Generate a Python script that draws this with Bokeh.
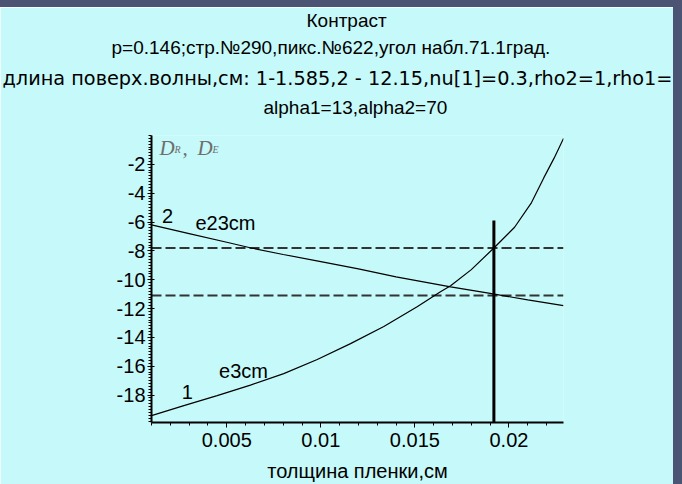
from bokeh.plotting import figure
from bokeh.layouts import column, row
from bokeh.models import Range1d, FixedTicker, Label, Div, Title
from bokeh.core.properties import value
from bokeh.embed import file_html
from bokeh.resources import INLINE

# ---- data ----
x_e3cm = [0.001, 0.00272, 0.00449, 0.00626, 0.00803, 0.00981, 0.01158, 0.01335,
          0.01512, 0.01636, 0.0169, 0.0180, 0.0192, 0.0203, 0.0212, 0.02185,
          0.0224, 0.0229]
y_e3cm = [-19.42, -18.73, -18.04, -17.31, -16.51, -15.53, -14.43, -13.24,
          -11.87, -10.84, -10.42, -9.3, -7.8, -6.36, -4.65, -2.94, -1.57, -0.2]

x_e23cm = [0.001, 0.003, 0.005, 0.0063, 0.008, 0.010, 0.012, 0.014, 0.0169,
           0.019, 0.021, 0.0229]
y_e23cm = [-6.2, -6.8, -7.4, -7.8, -8.25, -8.75, -9.25, -9.8, -10.5,
           -10.95, -11.4, -11.8]

dash_levels = [-7.8, -11.1]
dash_x = [0.001, 0.0229]

vline_x = [0.0192, 0.0192]
vline_y = [-19.9, -5.9]

label_x = [0.00185, 0.00493, 0.00291, 0.00589]
label_y = [-5.57, -6.05, -17.79, -16.35]
label_text = ["2", "e23cm", "1", "e3cm"]

x_ticks = [0.005, 0.01, 0.015, 0.02]
x_tick_labels = ["0.005", "0.01", "0.015", "0.02"]
y_ticks = [-18, -16, -14, -12, -10, -8, -6, -4, -2]
y_tick_labels = ["-18", "-16", "-14", "-12", "-10", "-8", "-6", "-4", "-2"]

title_lines = [
    "Контраст",
    "p=0.146;стр.№290,пикс.№622,угол набл.71.1град.",
    "длина поверх.волны,см: 1-1.585,2 - 12.15,nu[1]=0.3,rho2=1,rho1=",
    "alpha1=13,alpha2=70",
]
x_label = "толщина пленки,см"

BG = "#c6f9f9"
DARK = "#4b5573"
FONT = "Liberation Sans"

p = figure(width=673, height=477, output_backend="svg", toolbar_location=None,
           x_range=Range1d(0.001, 0.0229), y_range=Range1d(-19.9, 0.0),
           min_border_left=151, min_border_right=110, min_border_top=127,
           min_border_bottom=60)
p.background_fill_color = BG
p.border_fill_color = BG
p.outline_line_color = None
p.xgrid.visible = False
p.ygrid.visible = False

# axes
p.xaxis.ticker = FixedTicker(ticks=x_ticks,
                             minor_ticks=[0.001 * k for k in range(1, 23)])
p.xaxis.major_label_overrides = {t: s for t, s in zip(x_ticks, x_tick_labels)}
p.yaxis.ticker = FixedTicker(ticks=y_ticks,
                             minor_ticks=[-0.2 * k for k in range(0, 100)])
p.yaxis.major_label_overrides = {t: s for t, s in zip(y_ticks, y_tick_labels)}

for ax in (p.xaxis[0], p.yaxis[0]):
    ax.axis_line_width = 2
    ax.axis_line_color = "black"
    ax.major_tick_line_color = "black"
    ax.minor_tick_line_color = "black"
    ax.major_tick_line_width = 1
    ax.minor_tick_line_width = 1
    ax.major_label_text_font = FONT
    ax.major_label_text_font_size = "20px"
    ax.major_label_text_color = "black"

p.xaxis.major_tick_out = 5
p.xaxis.major_tick_in = 0
p.xaxis.minor_tick_out = 3
p.xaxis.minor_tick_in = 0
p.xaxis.major_label_standoff = 5
p.yaxis.major_tick_out = 4
p.yaxis.major_tick_in = 3
p.yaxis.minor_tick_out = 3
p.yaxis.minor_tick_in = 0
p.yaxis.major_label_standoff = 2

p.xaxis.axis_label = x_label
p.xaxis.axis_label_text_font = FONT
p.xaxis.axis_label_text_font_size = "20px"
p.xaxis.axis_label_text_font_style = "normal"
p.xaxis.axis_label_text_color = "black"
p.xaxis.axis_label_standoff = 10

# lines
for lvl in dash_levels:
    p.line(dash_x, [lvl, lvl], line_color="#333333", line_width=2, line_dash="10 4")
p.line(x_e23cm, y_e23cm, line_color="black", line_width=1.2)
p.line(x_e3cm, y_e3cm, line_color="black", line_width=1.2)
p.line(vline_x, vline_y, line_color="black", line_width=3)

p.text(label_x, label_y, text=label_text, text_font=value(FONT),
       text_font_size="20px", text_color="black", text_align="center",
       text_baseline="middle")

# thin blank title used as a spacer between the frame and the title block
p.add_layout(Title(text=" ", text_font=FONT, text_font_size="8px", standoff=3),
             "above")

# title lines: stacked titles above the frame (last added is outermost)
title_fonts = [FONT, FONT, "DejaVu Sans", FONT]
title_sizes = ["19px", "19px", "19.3px", "19px"]
title_offsets = [155, -40, -149, 112]
title_standoffs = [0, 9, 4, 7]
for i in reversed(range(len(title_lines))):
    p.add_layout(Title(text=title_lines[i], text_font=title_fonts[i],
                       text_font_size=title_sizes[i], text_font_style="normal",
                       text_color="black", align="left",
                       offset=title_offsets[i], standoff=title_standoffs[i]),
                 "above")

# y axis name D_R, D_E
ylab_parts = [("D", 8, 275, "21px"), ("R", 23, 273, "10px"), (",", 31, 275, "21px"),
              ("D", 46, 275, "21px"), ("E", 61, 273, "10px")]
for txt, sx, sy, fs in ylab_parts:
    p.add_layout(Label(x=sx, y=sy, x_units="screen", y_units="screen",
                       text=txt, text_font="Liberation Serif", text_font_size=fs,
                       text_font_style="italic", text_color="#6e6e6e",
                       text_align="left", text_baseline="alphabetic"))

top_strip = Div(width=682, height=7, margin=0,
                styles={"background-color": DARK})
side_strip = Div(width=9, height=477, margin=0,
                 styles={"background-color": DARK})
page = column(top_strip, row(p, side_strip, spacing=0), spacing=0)

open("out.html", "w").write(file_html(page, INLINE))
